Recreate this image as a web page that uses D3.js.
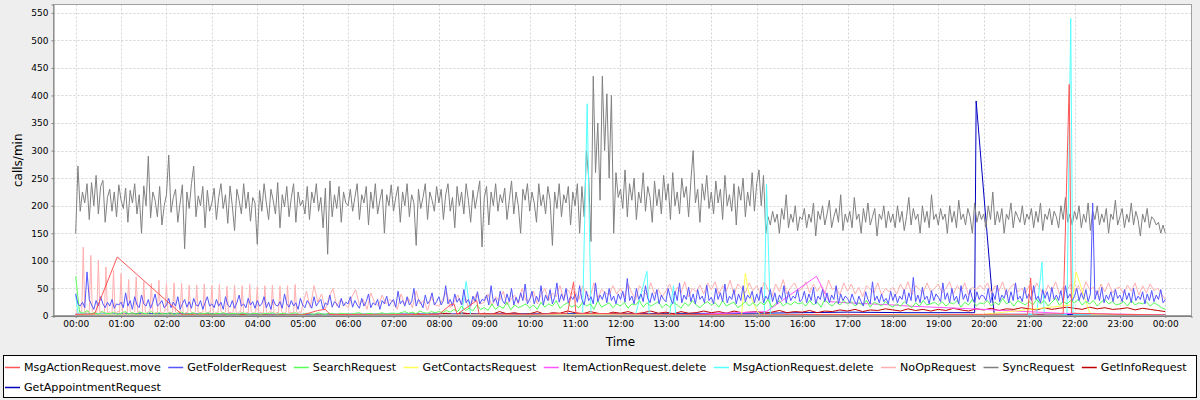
<!DOCTYPE html>
<html><head><meta charset="utf-8">
<script src="https://cdn.jsdelivr.net/npm/d3@7"></script>
<style>
body{margin:0;background:#eeeeee;}
svg{display:block;font-family:"DejaVu Sans",sans-serif;}
</style>
</head><body>
<svg id="chart" width="1200" height="400"></svg>
<script>
// ---------- data ----------
const seriesNames = ["MsgActionRequest.move","GetFolderRequest","SearchRequest","GetContactsRequest",
  "ItemActionRequest.delete","MsgActionRequest.delete","NoOpRequest","SyncRequest","GetInfoRequest","GetAppointmentRequest"];
const seriesColors = ["#ff5555","#5555ff","#55ff55","#ffff55","#ff55ff","#55ffff","#ffafaf","#808080","#c00000","#0000c0"];
const yTickValues = [0,50,100,150,200,250,300,350,400,450,500,550];
const xTickHours = [0,1,2,3,4,5,6,7,8,9,10,11,12,13,14,15,16,17,18,19,20,21,22,23,24];

// SyncRequest: one value every 3 minutes from 00:00
const syncStep = 3;
const syncValues = [
150,272,190,225,205,240,175,242,200,255,185,235,246,170,215,230,190,225,180,238,
210,195,232,170,228,205,240,185,220,150,236,200,290,178,225,210,180,235,165,200,
220,292,188,215,230,170,205,238,122,225,195,240,272,180,218,200,235,160,228,190,
205,232,175,215,240,195,220,168,236,200,155,230,210,185,240,195,225,172,215,205,
130,228,190,240,205,175,230,210,185,242,160,220,198,235,180,215,240,170,225,200,
210,185,235,175,225,205,240,190,215,160,232,112,245,180,220,195,235,170,225,205,
200,230,190,215,240,175,220,205,235,165,225,195,240,185,210,230,150,220,200,238,
190,215,235,170,225,200,240,180,220,205,128,230,195,215,240,175,225,210,190,235,
205,230,175,220,240,190,215,160,235,200,225,185,240,210,170,228,195,220,245,125,
215,235,165,225,200,240,190,220,205,232,175,210,245,185,225,200,150,230,210,240,
190,225,205,170,240,200,220,185,235,210,128,225,195,240,180,220,205,235,165,225,
200,240,150,235,180,300,250,135,435,260,350,210,435,300,403,250,400,150,260,215,
230,195,265,180,240,210,250,175,225,205,260,190,235,215,170,245,200,230,185,255,
210,240,175,260,200,225,185,250,215,235,180,245,300,205,230,170,240,210,255,195,
225,185,245,205,230,175,255,200,220,190,240,165,235,210,250,180,225,200,260,190,
240,265,200,255,150,180,165,190,170,185,150,195,175,220,160,185,170,200,155,180,
175,195,160,185,170,205,145,190,175,200,165,185,210,160,180,195,170,220,155,185,
170,190,160,215,175,185,150,195,170,205,165,180,195,145,185,175,200,160,190,170,
185,160,200,170,190,155,180,215,165,195,175,185,150,200,170,190,160,220,175,185,
165,195,175,185,150,200,170,190,160,210,175,185,165,195,180,150,205,170,190,175,
185,160,200,175,225,165,190,170,195,150,185,175,205,160,190,180,170,200,165,185,
175,195,160,190,170,205,155,185,175,195,165,190,180,160,200,175,215,170,185,165,
190,175,200,160,185,170,205,155,190,175,200,165,185,170,195,150,185,175,210,165,
180,195,160,185,170,205,165,190,175,145,185,170,195,160,180,175,165,170,150,165,
150];

// GetFolderRequest: one value every 3 minutes
const folderStep = 3;
const folderValues = [
40,22,18,25,15,80,30,20,12,28,18,35,22,15,25,18,30,14,22,20,
25,15,42,18,28,12,35,20,15,38,22,18,30,14,25,40,18,22,28,15,
20,32,15,25,18,35,12,22,30,16,26,14,32,20,18,28,12,24,35,18,
22,15,30,18,25,12,35,20,16,28,14,24,38,18,22,15,32,20,26,14,
28,18,22,35,15,25,12,30,20,18,26,14,40,22,16,28,18,24,12,32,
20,15,28,22,14,35,18,25,30,12,24,20,38,16,26,22,15,32,18,25,
22,35,16,28,20,14,32,18,26,40,15,24,20,30,12,28,22,36,18,25,
30,16,45,22,28,18,35,20,26,50,18,30,24,15,38,22,28,42,20,26,
35,20,28,55,22,30,18,40,25,32,20,48,24,30,18,36,26,44,22,30,
28,38,20,55,25,32,18,45,28,22,40,26,50,20,34,24,42,28,58,22,
30,45,22,36,26,55,20,38,28,48,22,34,60,25,40,28,50,24,36,30,
40,25,55,30,20,45,28,35,22,60,26,38,30,44,24,50,28,36,22,40,
30,45,25,68,28,36,22,50,30,40,26,55,32,24,42,28,48,22,38,30,
26,50,32,22,45,28,60,24,38,30,52,26,40,22,48,30,36,24,56,28,
34,22,50,30,42,26,58,24,36,30,48,22,40,28,55,26,38,32,45,24,
40,28,52,24,36,30,48,26,42,22,38,30,55,24,44,28,36,32,48,26,
30,45,24,40,28,52,22,36,30,48,26,42,24,38,30,55,22,40,28,36,
32,24,40,28,20,36,26,18,44,30,22,62,28,36,24,40,26,32,22,45,
28,40,24,36,30,48,22,42,28,70,26,38,24,52,30,36,22,46,28,40,
34,26,60,30,42,24,50,28,36,22,55,30,40,26,48,32,24,44,30,38,
36,28,50,24,42,30,56,26,38,32,48,24,44,28,60,30,36,26,52,32,
40,28,55,30,36,24,48,32,44,26,52,30,38,28,46,24,55,32,40,28,
36,50,28,42,30,48,26,40,205,30,46,28,52,24,38,30,44,26,48,32,
38,26,48,30,42,24,50,28,36,30,44,22,40,28,46,26,38,30,48,24,
30];

// NoOpRequest: every 2 minutes 00:00-04:58, then every 5 minutes from 05:00
const noopEarlyStep = 2;
const noopEarlyValues = [
10,6,4,8,5, 125,7,5,9,6, 110,8,5,7,4, 101,6,9,5,7, 89,5,8,6,4, 83,7,5,9,6,
77,6,4,8,5, 66,8,6,5,7, 71,5,9,6,4, 62,7,5,8,6, 59,6,4,7,5, 65,8,6,5,9,
59,5,7,6,4, 60,7,5,8,6, 59,6,4,7,5, 56,8,6,5,7, 56,5,7,6,4, 58,7,5,8,6,
55,6,4,7,5, 57,8,6,5,7, 54,5,7,6,4, 56,7,5,8,6, 55,6,4,7,5, 57,8,6,5,7,
53,5,7,6,4, 55,7,5,8,6, 56,6,4,7,5, 54,8,6,5,7, 55,5,7,6,4, 57,7,5,8,6];
const noopLateStart = 300;
const noopLateStep = 5;
const noopLateValues = [
20,45,15,55,25,40,12,35,50,18,30,22,
15,35,48,20,30,12,42,25,18,38,22,30,
25,12,40,20,32,15,45,22,28,10,35,20,
18,30,45,15,25,38,20,32,12,28,40,22,
25,40,18,35,28,45,20,30,38,22,50,28,
30,45,22,38,50,28,42,35,55,30,48,38,
45,30,55,40,35,60,32,48,42,38,55,40,
50,35,58,42,30,55,45,38,60,40,48,35,
45,58,38,52,42,62,35,50,44,56,40,60,
48,62,40,55,45,65,38,58,50,42,60,46,
55,40,62,48,35,58,44,66,40,52,60,45,
50,62,42,58,45,55,40,65,48,52,38,60,
45,58,40,52,35,55,48,42,60,38,50,44,
52,40,58,45,62,38,55,48,42,60,44,50,
58,42,50,62,40,55,45,60,38,52,48,56,
48,60,42,55,45,62,38,52,58,44,50,40,
55,42,60,48,38,56,45,62,40,52,46,58,
45,55,40,62,48,52,38,58,44,60,42,50,
52,40,56,45,60,38,55,42,58,46,50,40,
30];

// SearchRequest: every 5 minutes
const searchStep = 5;
const searchValues = [
72,8,5,10,4,6,3,8,5,4,7,3,
5,8,4,6,3,7,5,4,8,3,6,4,
4,6,3,5,7,3,4,6,3,5,4,6,
3,5,4,6,3,4,5,3,6,4,3,5,
4,3,5,4,6,3,4,5,3,4,6,3,
3,5,4,3,6,4,3,5,4,3,5,4,
4,3,5,6,3,4,5,3,4,6,3,5,
5,4,6,8,5,7,4,9,6,5,8,6,
8,6,10,7,12,8,18,10,14,9,20,12,
15,10,22,12,18,14,25,11,20,15,18,22,
14,20,12,25,16,22,18,28,14,20,24,16,
20,15,25,18,22,12,28,16,20,24,15,22,
18,25,14,22,20,28,16,24,18,22,26,15,
22,16,25,20,14,24,18,28,20,15,22,26,
20,24,16,28,18,22,25,15,20,26,18,24,
18,25,20,30,16,22,28,18,24,20,26,22,
24,18,28,20,25,16,30,22,18,26,20,28,
22,26,18,24,20,28,16,25,22,18,26,20,
16,22,18,26,20,15,24,18,28,20,22,25,
20,26,18,24,22,28,16,25,20,30,18,24,
22,28,18,25,20,32,22,26,18,28,24,20,
26,20,30,22,28,18,25,32,20,26,22,28,
24,30,20,26,22,28,18,25,30,22,26,20,
22,26,18,28,20,24,22,26,18,24,20,15,
12];

// GetInfoRequest: every 10 minutes
const infoStep = 10;
const infoValues = [
3,2,1,2,3,1, 2,1,3,2,1,2, 1,2,1,3,1,2, 2,1,2,1,3,1,
1,2,1,2,1,2, 2,1,3,1,2,1, 1,2,1,2,3,1, 2,3,1,4,2,3,
3,5,2,6,4,3, 5,3,8,4,6,3, 4,8,3,6,5,9, 6,4,8,5,3,7,
5,8,4,6,9,5, 7,4,8,5,6,9, 6,8,5,9,6,7, 8,5,7,10,6,8,
7,10,6,9,8,11, 9,12,8,11,10,13, 11,9,13,10,12,9, 12,10,14,11,9,13,
11,14,10,13,12,15, 13,11,15,12,14,16, 14,12,16,13,15,12, 13,15,11,14,12,10,
8];

// sparse series: minute of day / value
const moveMinutes = [0,25,55,141,200,300,320,330,336,400,480,495,500,504,530,533,600,650,658,661,720,800,900,1000,1100,1200,1258,1262,1265,1305,1313,1316,1380,1440];
const moveValues  = [3,4,107,2,1,2,10,12,3,2,3,20,22,3,28,4,3,5,62,5,4,3,2,3,2,3,3,69,3,4,420,5,3,2];
const contactsMinutes = [0,300,600,880,885,889,900,905,1200,1316,1322,1340,1345,1440];
const contactsValues  = [2,1,2,2,78,45,10,2,3,20,80,6,2,1];
const itemDelMinutes = [0,200,500,800,913,979,996,1020,1080,1100,1200,1300,1440];
const itemDelValues  = [2,1,2,2,8,72,26,24,20,18,12,5,2];
const msgDelMinutes = [0,3,60,200,400,510,516,522,600,670,676,681,740,755,758,785,790,793,900,910,913,918,1000,1270,1277,1280,1310,1315,1318,1440];
const msgDelValues  = [40,5,2,1,2,2,63,2,3,3,385,3,3,81,3,3,55,3,3,3,239,3,2,3,98,3,3,540,3,2];
const apptMinutes = [0,100,300,600,900,1020,1100,1188,1190,1211,1214,1300,1440];
const apptValues  = [3,4,3,4,5,7,6,6,390,40,3,3,2];

// ---------- build series ----------
function stepped(start, step, vals){ return vals.map((v,i)=>({m:start+i*step, v})); }
function paired(ms, vals){ return ms.map((m,i)=>({m, v:vals[i]})); }
const seriesData = [
  paired(moveMinutes, moveValues),
  stepped(0, folderStep, folderValues),
  stepped(0, searchStep, searchValues),
  paired(contactsMinutes, contactsValues),
  paired(itemDelMinutes, itemDelValues),
  paired(msgDelMinutes, msgDelValues),
  stepped(0, noopEarlyStep, noopEarlyValues).concat(stepped(noopLateStart, noopLateStep, noopLateValues)),
  stepped(0, syncStep, syncValues),
  stepped(0, infoStep, infoValues),
  paired(apptMinutes, apptValues)
];

// ---------- layout ----------
const svg = d3.select("#chart");
const W = 1200, H = 400;
const plot = {l:53.5, r:1191.5, t:4.5, b:316};
const base = new Date(2010,0,1,0,0,0);
const toDate = m => new Date(base.getTime() + m*60000);
const x = d3.scaleTime().domain([toDate(-29.3), toDate(1474.6)]).range([plot.l, plot.r]);
const y = d3.scaleLinear().domain([0,565]).range([plot.b, plot.t]);

svg.append("rect").attr("width",W).attr("height",H).attr("fill","#eeeeee");
svg.append("rect").attr("x",plot.l).attr("y",plot.t).attr("width",plot.r-plot.l).attr("height",plot.b-plot.t).attr("fill","#ffffff");

// gridlines
const grid = svg.append("g").attr("stroke","#d4d4d4").attr("stroke-dasharray","2,2").attr("stroke-width",1);
xTickHours.forEach(h=>{
  const xx = Math.round(x(toDate(h*60)))+0.5;
  grid.append("line").attr("x1",xx).attr("x2",xx).attr("y1",plot.t).attr("y2",plot.b);
});
yTickValues.forEach(v=>{
  if(v===0) return;
  const yy = Math.round(y(v))+0.5;
  grid.append("line").attr("x1",plot.l).attr("x2",plot.r).attr("y1",yy).attr("y2",yy);
});

// lines
svg.append("clipPath").attr("id","clip").append("rect")
  .attr("x",plot.l).attr("y",plot.t).attr("width",plot.r-plot.l).attr("height",plot.b-plot.t);
const line = d3.line().x(d=>x(toDate(d.m))).y(d=>y(d.v));
const lines = svg.append("g").attr("clip-path","url(#clip)");
for(let i=seriesData.length-1;i>=0;i--){
  lines.append("path").datum(seriesData[i]).attr("d",line)
    .attr("fill","none").attr("stroke",seriesColors[i]).attr("stroke-width",1).attr("stroke-linejoin","round");
}

// outline
svg.append("rect").attr("x",plot.l).attr("y",plot.t).attr("width",plot.r-plot.l).attr("height",plot.b-plot.t-0.5)
  .attr("fill","none").attr("stroke","#a0a0a0").attr("stroke-width",1);

// axes
const xAxis = d3.axisBottom(x).tickValues(xTickHours.map(h=>toDate(h*60)))
  .tickFormat(d3.timeFormat("%H:%M")).tickSize(2).tickPadding(3);
const gx = svg.append("g").attr("transform",`translate(0,${plot.b})`).call(xAxis);
gx.select(".domain").attr("stroke","#808080");
gx.selectAll(".tick line").attr("stroke","#808080");
gx.selectAll("text").attr("font-size","9px").attr("font-family","DejaVu Sans").attr("fill","#000");

const yAxis = d3.axisLeft(y).tickValues(yTickValues).tickSize(2).tickPadding(3);
const gy = svg.append("g").attr("transform",`translate(${plot.l},0)`).call(yAxis);
gy.select(".domain").attr("stroke","#808080");
gy.selectAll(".tick line").attr("stroke","#808080");
gy.selectAll("text").attr("font-size","9px").attr("font-family","DejaVu Sans").attr("fill","#000");

svg.append("text").attr("x",(x(toDate(0))+x(toDate(1440)))/2).attr("y",346).attr("text-anchor","middle")
  .attr("font-size","12px").text("Time");
svg.append("text").attr("transform",`translate(22,${(plot.t+plot.b)/2}) rotate(-90)`).attr("text-anchor","middle")
  .attr("font-size","12px").text("calls/min");

// legend
const leg = svg.append("g");
leg.append("rect").attr("x",3.5).attr("y",355.5).attr("width",1193).attr("height",42)
  .attr("fill","#ffffff").attr("stroke","#000").attr("stroke-width",1);
let lx = 5, row = 0;
const rowY = [367, 387];
seriesNames.forEach((name,i)=>{
  const g = leg.append("g");
  const t = g.append("text").attr("font-size","11.1px").attr("dominant-baseline","central").attr("fill","#000").text(name);
  const tw = t.node().getComputedTextLength();
  if(lx + 19 + tw > 1196){ row++; lx = 5; }
  g.append("rect").attr("x",lx).attr("y",rowY[row]-0.25).attr("width",15).attr("height",1.5)
    .attr("fill",seriesColors[i]);
  t.attr("x",lx+19).attr("y",rowY[row]);
  lx += 19 + tw + 7.5;
});
</script>
</body></html>
